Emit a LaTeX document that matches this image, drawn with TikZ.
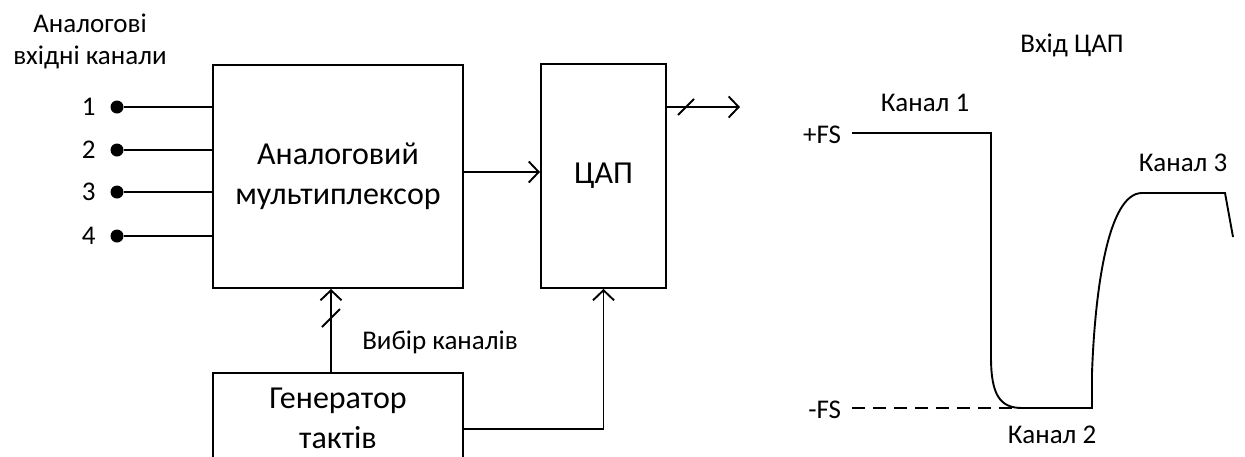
\documentclass[tikz,border=0pt]{standalone}
\usepackage{fontspec}
\setmainfont{Carlito}
\usetikzlibrary{arrows.meta, positioning}
\newcommand\bigtxt{\fontsize{32}{40}\selectfont}
\newcommand\smalltxt{\fontsize{27}{32}\selectfont}

\begin{document}
\begin{tikzpicture}[x=1pt, y=-1pt, line width=1.9pt, font=\smalltxt,
    blok/.style={draw, align=center, font=\bigtxt, inner sep=0pt},
    dot/.style={circle, fill, inner sep=0pt, minimum size=13pt},
    arr/.style={-{Straight Barb[length=10pt, width=21pt, line width=1.9pt]}},
    slash/.style={line width=1.9pt}]
    \useasboundingbox (0,0) rectangle (1245,456);

    % Блоки схеми
    \node[blok, minimum width=250pt, minimum height=223pt] (mux) at (338,176.5) {Аналоговий\\мультиплексор};
    \node[blok, minimum width=125pt, minimum height=224pt] (dac) at (603.5,176) {ЦАП};
    \node[blok, minimum width=250pt, minimum height=90pt] (gen) at (338,418) {Генератор\\тактів};

    % Аналогові входи 1..4
    \node[align=center] (title) at (90,41) {Аналогові\\вхідні канали};
    \node[dot] (d1) at (117,107) {};
    \node[dot] (d2) at (117,150) {};
    \node[dot] (d3) at (117,192) {};
    \node[dot] (d4) at (117,236) {};
    \node[left=13pt of d1, inner sep=0pt] (n1) {1};
    \node[left=13pt of d2, inner sep=0pt] (n2) {2};
    \node[left=13pt of d3, inner sep=0pt] (n3) {3};
    \node[left=13pt of d4, inner sep=0pt] (n4) {4};
    \draw (d1) -- (d1 -| mux.west);
    \draw (d2) -- (d2 -| mux.west);
    \draw (d3) -- (d3 -| mux.west);
    \draw (d4) -- (d4 -| mux.west);

    % Мультиплексор -> ЦАП, вихід ЦАП
    \coordinate (mx) at (500,172);
    \draw[arr] (mx -| mux.east) -- (mx -| dac.west);
    \coordinate (out) at (740,107);
    \draw[arr] (out -| dac.east) -- (out);
    \draw[slash] (678,115) -- (694,99);

    % Вибір каналів
    \coordinate (sel) at (331,318);
    \draw[arr] (sel |- gen.north) -- (sel |- mux.south);
    \draw[slash] (322,327) -- (340,309);
    \node (selt) at (440,342) {Вибір каналів};

    % Такти -> ЦАП
    \coordinate (clk) at (603.5,429);
    \draw[arr] (clk -| gen.east) -- (clk) -- (dac.south);

    % Вхід ЦАП (часова діаграма)
    \node (wt) at (1072,45) {Вхід ЦАП};
    \node[anchor=east, inner sep=0pt] (pfs) at (842,135) {+FS};
    \node[anchor=east, inner sep=0pt] (mfs) at (842,410) {-FS};
    \node (k1) at (925,103) {Канал 1};
    \node (k2) at (1052,435) {Канал 2};
    \node (k3) at (1183,163) {Канал 3};
    \draw[dash pattern=on 13pt off 8pt] (852,408) -- (1022,408);
    \draw (852,133) -- (991,133) -- (991,357)
        .. controls (991,395) and (1000,408) .. (1022,408)
        -- (1092,408) -- (1092,373)
        .. controls (1095,290) and (1108,193) .. (1142,193)
        -- (1225,193) -- (1233,237);
\end{tikzpicture}
\end{document}
